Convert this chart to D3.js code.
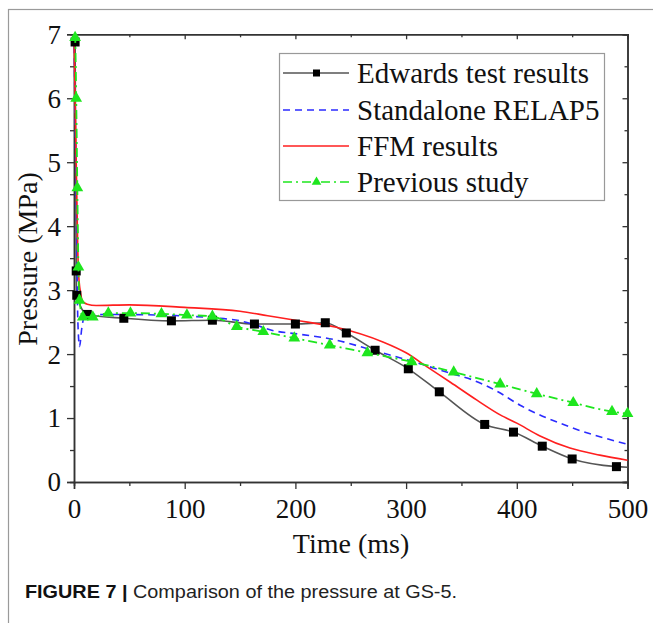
<!DOCTYPE html>
<html><head><meta charset="utf-8">
<script src="https://cdn.jsdelivr.net/npm/d3@7"></script>
<style>body{margin:0;background:#fff}svg{display:block}</style>
</head><body>
<svg id="c" width="653" height="623"></svg>
<script>
// ---- data ----
const xTicks = [0, 100, 200, 300, 400, 500];
const yTicks = [0, 1, 2, 3, 4, 5, 6, 7];
const seriesNames = ["Edwards test results", "Standalone RELAP5", "FFM results", "Previous study"];
const edwards = [[0,7.0],[1,6.88],[2,3.3],[2.5,2.92],[12,2.62],[45,2.56],[88,2.52],[125,2.53],[163,2.47],[200,2.47],[227,2.49],[246,2.33],[272,2.06],[302,1.77],[330,1.41],[371,0.90],[397,0.78],[423,0.56],[450,0.36],[490,0.24],[500,0.23]];
const edwardsMarkers = [[1,6.88],[2,3.3],[2.5,2.92],[12,2.62],[45,2.56],[88,2.52],[125,2.53],[163,2.47],[200,2.47],[227,2.49],[246,2.33],[272,2.06],[302,1.77],[330,1.41],[371,0.90],[397,0.78],[423,0.56],[450,0.36],[490,0.24]];
const relap5 = [[0,7.0],[2,4.5],[3.5,2.5],[5,2.12],[7,2.4],[10,2.62],[30,2.62],[78,2.61],[123,2.57],[150,2.52],[165,2.45],[177,2.38],[204,2.31],[234,2.23],[270,2.06],[301,1.91],[340,1.70],[361,1.59],[382,1.42],[403,1.20],[448,0.86],[500,0.59]];
const ffm = [[0,7.0],[2,5.0],[4,3.3],[6,2.95],[8,2.82],[12,2.78],[20,2.76],[50,2.77],[100,2.73],[150,2.67],[175,2.60],[200,2.53],[237,2.42],[279,2.19],[300,2.02],[319,1.80],[340,1.56],[364,1.28],[385,1.05],[400,0.92],[421,0.72],[448,0.53],[475,0.42],[500,0.34]];
const previous = [[0,7.0],[1,6.95],[2,6.0],[3,4.6],[4,3.36],[5,2.84],[8,2.58],[17,2.58],[31,2.64],[51,2.64],[79,2.63],[102,2.61],[125,2.59],[147,2.43],[171,2.35],[199,2.25],[231,2.14],[265,2.02],[305,1.88],[343,1.72],[385,1.53],[418,1.38],[451,1.24],[486,1.10],[500,1.07]];
const previousMarkers = previous.slice(1);

const svg = d3.select("#c");
const serif = "'Liberation Serif','Times New Roman',serif";
const x = d3.scaleLinear().domain([0,500]).range([74,627.5]);
const y = d3.scaleLinear().domain([0,7]).range([482,34.3]);

// outer frame
svg.append("rect").attr("x",8.5).attr("y",9.5).attr("width",700).attr("height",700)
  .attr("fill","none").attr("stroke","#9a9a9a").attr("stroke-width",1.2);

const axisCol = "#333";
// axes
const gx = svg.append("g").attr("transform",`translate(0,${y(0)})`)
  .call(d3.axisBottom(x).tickValues(xTicks).tickSize(7).tickPadding(6).tickFormat(d3.format("d")));
const gy = svg.append("g").attr("transform",`translate(${x(0)},0)`)
  .call(d3.axisLeft(y).tickValues(yTicks).tickSize(7).tickPadding(6).tickFormat(d3.format("d")));
const gt = svg.append("g").attr("transform",`translate(0,${y(7)})`)
  .call(d3.axisBottom(x).tickValues(xTicks).tickSize(5).tickFormat(""));
const gr = svg.append("g").attr("transform",`translate(${x(500)},0)`)
  .call(d3.axisLeft(y).tickValues(yTicks).tickSize(5).tickFormat(""));
// minor ticks
const xMinor = [50,150,250,350,450], yMinor = [0.5,1.5,2.5,3.5,4.5,5.5,6.5];
svg.append("g").attr("transform",`translate(0,${y(0)})`).call(d3.axisBottom(x).tickValues(xMinor).tickSize(4).tickFormat(""));
svg.append("g").attr("transform",`translate(${x(0)},0)`).call(d3.axisLeft(y).tickValues(yMinor).tickSize(4).tickFormat(""));
svg.append("g").attr("transform",`translate(0,${y(7)})`).call(d3.axisBottom(x).tickValues(xMinor).tickSize(3).tickFormat(""));
svg.append("g").attr("transform",`translate(${x(500)},0)`).call(d3.axisLeft(y).tickValues(yMinor).tickSize(3).tickFormat(""));
svg.selectAll(".domain").attr("stroke",axisCol).attr("stroke-width",1.5);
svg.selectAll(".tick line").attr("stroke",axisCol).attr("stroke-width",1.3);
svg.selectAll(".tick text").attr("fill","#111").style("font-family",serif).style("font-size","27px");
gx.selectAll(".tick text").attr("dy","0.85em");
gy.selectAll(".tick text").attr("dy","0.33em");

// titles
svg.append("text").attr("x",351).attr("y",553).attr("text-anchor","middle")
  .style("font-family",serif).style("font-size","28px").attr("fill","#111").text("Time (ms)");
svg.append("text").attr("transform","translate(37,259) rotate(-90)").attr("text-anchor","middle")
  .style("font-family",serif).style("font-size","28px").attr("fill","#111").text("Pressure (MPa)");

// lines
const line = d3.line().x(d=>x(d[0])).y(d=>y(d[1])).curve(d3.curveMonotoneX);
const cols = {ed:"#555555", bl:"#2b2bff", rd:"#ff1f1f", gr:"#1ee61e"};
svg.append("path").datum(edwards).attr("d",line).attr("fill","none").attr("stroke",cols.ed).attr("stroke-width",1.6);
svg.append("path").datum(relap5).attr("d",line).attr("fill","none").attr("stroke",cols.bl).attr("stroke-width",1.6).attr("stroke-dasharray","7,5");
svg.append("path").datum(ffm).attr("d",line).attr("fill","none").attr("stroke",cols.rd).attr("stroke-width",1.6);
svg.selectAll(".sq").data(edwardsMarkers).join("rect").attr("class","sq")
  .attr("x",d=>x(d[0])-4.5).attr("y",d=>y(d[1])-4.5).attr("width",9).attr("height",9).attr("fill","#000");
svg.append("path").datum(previous).attr("d",line).attr("fill","none").attr("stroke",cols.gr).attr("stroke-width",1.8).attr("stroke-dasharray","9,4,2,4");
const tri = d3.symbol().type(d3.symbolTriangle).size(60);
svg.selectAll(".tr").data(previousMarkers).join("path").attr("class","tr")
  .attr("transform",d=>`translate(${x(d[0])},${y(d[1])})`).attr("d",tri).attr("fill",cols.gr);

// legend
const lg = svg.append("g");
lg.append("rect").attr("x",279.5).attr("y",53.5).attr("width",325).attr("height",147)
  .attr("fill","#fff").attr("stroke","#999").attr("stroke-width",1.2);
const rowsY = [73,110,146,182];
const styles = [
  {c:cols.ed, dash:null, m:"sq"},
  {c:cols.bl, dash:"7,5", m:null},
  {c:cols.rd, dash:null, m:null},
  {c:cols.gr, dash:"9,4,2,4", m:"tr"}];
seriesNames.forEach((n,i)=>{
  const s = styles[i], yy = rowsY[i];
  lg.append("line").attr("x1",283).attr("x2",349).attr("y1",yy).attr("y2",yy)
    .attr("stroke",s.c).attr("stroke-width",1.6).attr("stroke-dasharray",s.dash);
  if(s.m==="sq") lg.append("rect").attr("x",313).attr("y",yy-3.5).attr("width",7).attr("height",7).attr("fill","#000");
  if(s.m==="tr") lg.append("path").attr("transform",`translate(316.5,${yy})`).attr("d",d3.symbol().type(d3.symbolTriangle).size(40)).attr("fill",s.c);
  lg.append("text").attr("x",357).attr("y",yy).attr("dy","0.33em")
    .style("font-family",serif).style("font-size","29px").attr("fill","#111").text(n);
});

// caption
const cap = svg.append("text").attr("x",25).attr("y",598)
  .style("font-family","'Liberation Sans Narrow','Liberation Sans',Arial,sans-serif").style("font-size","17.5px").attr("fill","#222")
  .attr("textLength",432).attr("lengthAdjust","spacingAndGlyphs");
cap.append("tspan").style("font-weight","bold").attr("fill","#111").text("FIGURE 7 | ");
cap.append("tspan").text("Comparison of the pressure at GS-5.");
</script>
</body></html>
